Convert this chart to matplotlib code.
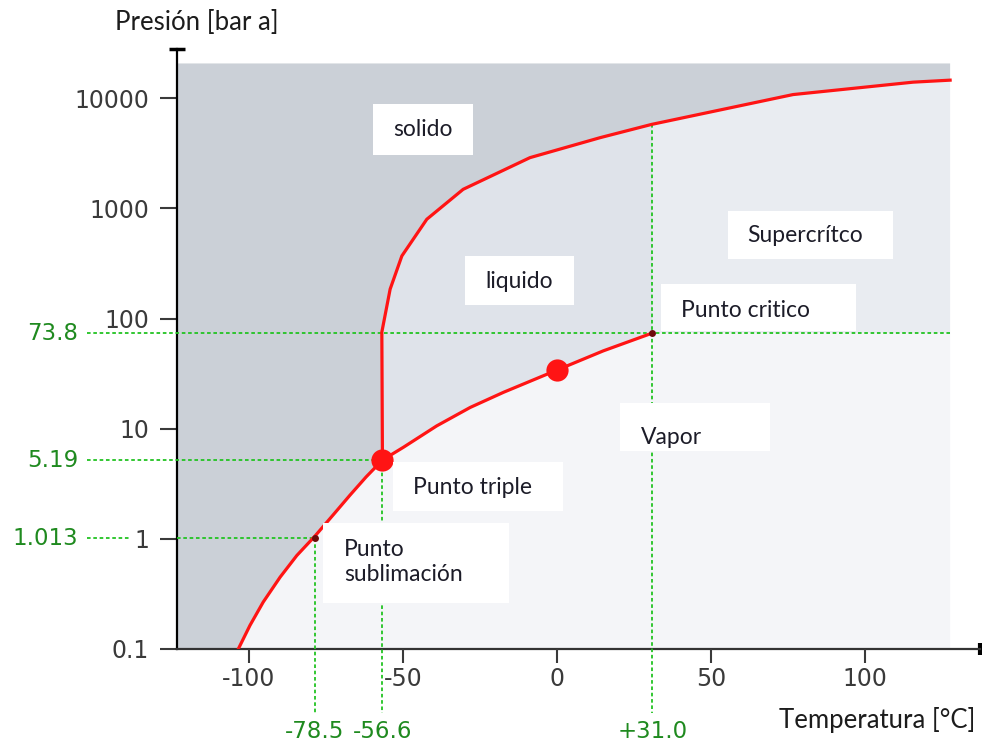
import matplotlib
matplotlib.use('Agg')
import matplotlib.pyplot as plt
from matplotlib.patches import Polygon, Rectangle
from matplotlib.ticker import NullLocator

plt.rcParams['font.family'] = ['Lato', 'DejaVu Sans']
plt.rcParams['axes.unicode_minus'] = False

# CO2 phase diagram (T in degC, P in bar a)
subl_T = [-103.4, -99.6, -95.3, -89.8, -84.4, -78.5, -72.6, -67.1, -61.9, -56.6]
subl_P = [0.1, 0.164, 0.267, 0.450, 0.706, 1.06, 1.65, 2.50, 3.65, 5.19]
vap_T = [-56.6, -49.8, -39.0, -28.1, -17.3, 0.0, 15.1, 31.0]
vap_P = [5.19, 6.78, 10.6, 15.6, 21.4, 34.0, 50.9, 73.8]
melt_T = [-56.6, -56.8, -54.1, -50.3, -42.2, -30.4, -8.7, 14.1, 30.8, 76.7, 115.7, 127.7]
melt_P = [5.19, 75.3, 185, 370, 797, 1490, 2890, 4390, 5790, 10800, 14000, 14600]

big_T = [-56.6, 0.0]
big_P = [5.19, 34.0]
small_T = [-78.5, 31.0]
small_P = [1.013, 73.8]

guide_T = [-78.5, -56.6, 31.0]
guide_T_labels = ['-78.5', '-56.6', '+31.0']
guide_P = [1.013, 5.19, 73.8]
guide_P_labels = ['1.013', '5.19', '73.8']
crit_top_P = 5790  # where the +31.0 guide meets the melting line

xticks = [-100, -50, 0, 50, 100]
yticks = [0.1, 1, 10, 100, 1000, 10000]
ytick_labels = ['0.1', '1', '10', '100', '1000', '10000']

# region labels: text, box (x0, y0, x1, y1) in pixels, text anchor in pixels, ha
region_labels = [
    ('solido', (373, 104, 473, 155), (423, 130), 'center'),
    ('liquido', (465, 256, 574, 305), (519, 281), 'center'),
    ('Supercrítco', (728, 211, 893, 259), (747, 236), 'left'),
    ('Punto critico', (661, 284, 856, 331), (681, 310), 'left'),
    ('Vapor', (620, 403, 770, 451), (641, 437), 'left'),
    ('Punto triple', (393, 462, 563, 511), (413, 487), 'left'),
    ('Punto\nsublimación', (323, 523, 509, 603), (344, 562), 'left'),
]

X_LO, X_EDGE, X_HI = -123.3, 127.7, 137.4
Y_LO, Y_EDGE, Y_HI = 0.1, 20700, 28000
X_OUT = -152.5  # left end of the green guides, outside the axes

c_solid = '#cbd0d7'
c_liquid = '#dfe3ea'
c_super = '#e9ecf1'
c_vapor = '#f4f5f8'
c_red = '#ff1414'
c_guide = '#22c322'
c_guide_txt = '#1f8a1f'
tick_color = '#3a3a3a'

fig = plt.figure(figsize=(9.82, 7.44), dpi=100)
AX_L, AX_B, AX_W, AX_H = 177, 649, 803, 600
ax = fig.add_axes([AX_L / 982, (744 - AX_B) / 744, AX_W / 982, AX_H / 744])
ax.set_facecolor('none')
ax.set_yscale('log')
ax.set_xlim(X_LO, X_HI)
ax.set_ylim(Y_LO, Y_HI)


def px(x, y):
    return ((x - AX_L) / AX_W, (AX_B - y) / AX_H)


# phase regions
subl_pts = list(zip(subl_T, subl_P))
vap_pts = list(zip(vap_T, vap_P))
melt_pts = list(zip(melt_T, melt_P))

solid_poly = [(X_LO, Y_LO)] + subl_pts + melt_pts[1:] + [(X_EDGE, Y_EDGE), (X_LO, Y_EDGE)]
fluid_poly = vap_pts + [(X_EDGE, vap_P[-1])] + melt_pts[::-1][:-1]
vapor_poly = subl_pts + vap_pts[1:] + [(X_EDGE, vap_P[-1]), (X_EDGE, Y_LO)]

ax.add_patch(Polygon(solid_poly, closed=True, fc=c_solid, ec='none', zorder=0))
fluid = Polygon(fluid_poly, closed=True, fc=c_super, ec='none', zorder=0)
ax.add_patch(fluid)
liquid = Rectangle((X_LO, Y_LO), guide_T[2] - X_LO, Y_EDGE - Y_LO, fc=c_liquid, ec='none', zorder=0.5)
ax.add_patch(liquid)
liquid.set_clip_path(fluid)
ax.add_patch(Polygon(vapor_poly, closed=True, fc=c_vapor, ec='none', zorder=0))

# green guides
gkw = dict(color=c_guide, lw=1.3, ls=(0, (2, 1.5)), clip_on=False, zorder=3)
bottom_P = 0.0262
ax.plot([X_OUT, X_EDGE], [guide_P[2], guide_P[2]], **gkw)
ax.plot([X_OUT, guide_T[1]], [guide_P[1], guide_P[1]], **gkw)
ax.plot([X_OUT, -138.1], [guide_P[0], guide_P[0]], **gkw)
ax.plot([X_LO, guide_T[0]], [guide_P[0], guide_P[0]], **gkw)
ax.plot([guide_T[0], guide_T[0]], [guide_P[0], bottom_P], **gkw)
ax.plot([guide_T[1], guide_T[1]], [guide_P[1], bottom_P], **gkw)
ax.plot([guide_T[2], guide_T[2]], [crit_top_P, bottom_P], **gkw)

for t, lab in zip(guide_T, guide_T_labels):
    ax.text(t, (AX_B - 732) / AX_H, lab, transform=ax.get_xaxis_transform(),
            ha='center', va='center', fontsize=16.5, color=c_guide_txt,
            family='DejaVu Sans')
for p, lab in zip(guide_P, guide_P_labels):
    ax.text((78 - AX_L) / AX_W, p, lab, transform=ax.get_yaxis_transform(),
            ha='right', va='center', fontsize=16.5, color=c_guide_txt,
            family='DejaVu Sans')

# curves
ax.plot(subl_T + vap_T[1:], subl_P + vap_P[1:], color=c_red, lw=2.3, zorder=4, solid_joinstyle='round')
ax.plot(melt_T, melt_P, color=c_red, lw=2.3, zorder=4, solid_joinstyle='round')
ax.plot(big_T, big_P, 'o', color=c_red, ms=16, mec='none', zorder=4.5)
ax.plot(small_T, small_P, 'o', color='#6e0a0a', ms=5, mec='none', zorder=4.5)

# region labels on white boxes
for text, (x0, y0, x1, y1), (tx, ty), ha in region_labels:
    bx, by = px(x0, y1)
    ax.add_patch(Rectangle((bx, by), (x1 - x0) / AX_W, (y1 - y0) / AX_H,
                           transform=ax.transAxes, fc='white', ec='none',
                           zorder=5, clip_on=False))
    tx, ty = px(tx, ty)
    ax.text(tx, ty, text, transform=ax.transAxes, ha=ha, va='center',
            fontsize=16.5, color='#1c1c28', zorder=6, linespacing=1.25)

# axes
for s in ['top', 'right']:
    ax.spines[s].set_visible(False)
ax.spines['left'].set_linewidth(1.6)
ax.spines['left'].set_color('black')
ax.spines['bottom'].set_linewidth(1.6)
ax.spines['bottom'].set_color('#333333')
ax.plot([0], [1], marker='_', ms=11, mew=2.5, color='black', transform=ax.transAxes, clip_on=False)
ax.plot([1], [0], marker='|', ms=9, mew=3, color='black', transform=ax.transAxes, clip_on=False)

ax.set_xticks(xticks)
ax.set_xticklabels([str(v) for v in xticks])
ax.set_yticks(yticks)
ax.set_yticklabels(ytick_labels)
ax.yaxis.set_minor_locator(NullLocator())
ax.tick_params(axis='y', length=12, width=1.5, pad=8, labelsize=17, colors=tick_color)
ax.tick_params(axis='x', length=10, width=1.5, pad=3, labelsize=17, colors=tick_color)
for lab in ax.get_xticklabels() + ax.get_yticklabels():
    lab.set_family('DejaVu Sans')
for lab in ax.get_xticklabels():
    lab.set_bbox(dict(fc='white', ec='none', pad=0.5))
ax.xaxis.set_zorder(3.5)

fig.text(115 / 982, 1 - 22 / 744, 'Presión [bar a]', ha='left', va='center',
         fontsize=18.5, color='#1c1c1c')
fig.text(975 / 982, 1 - 720 / 744, 'Temperatura [°C]', ha='right', va='center',
         fontsize=18.5, color='#1c1c1c')

fig.savefig('out.png', dpi=100)
